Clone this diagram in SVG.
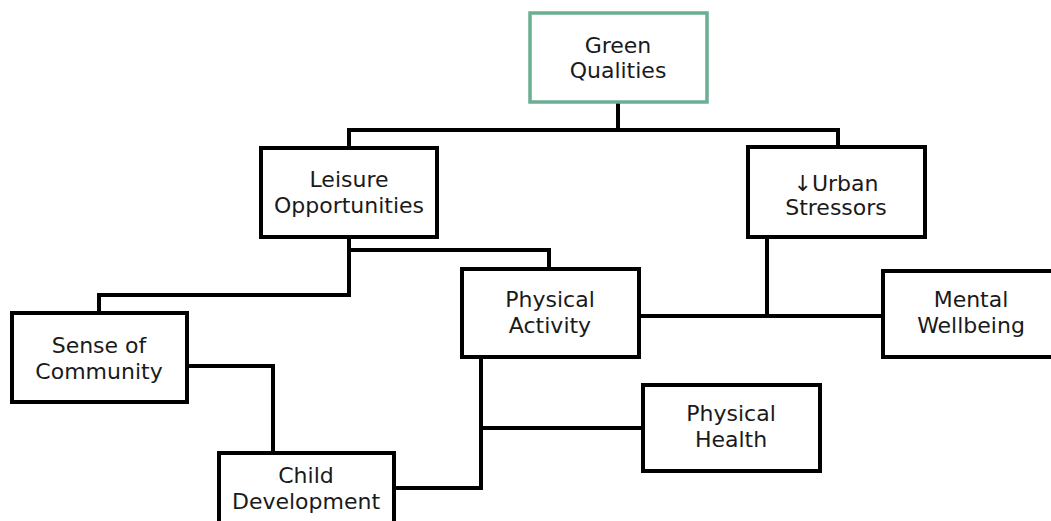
<svg xmlns="http://www.w3.org/2000/svg" width="1051" height="521" viewBox="0 0 1051 521">
<style>
.box{fill:#fff;stroke:#000;stroke-width:4}
.green{fill:#fff;stroke:#6aae93;stroke-width:3.5}
.lbl{font-family:"DejaVu Sans","Liberation Sans",sans-serif;font-size:22px;fill:#1a1a1a;text-anchor:middle}
.con{fill:none;stroke:#000;stroke-width:4;stroke-linejoin:miter}
</style>
<rect width="1051" height="521" fill="#fff"/>
<g id="connectors">
<polyline class="con" points="618,102 618,130"/>
<polyline class="con" points="349,148 349,130 838,130 838,147"/>
<polyline class="con" points="349,237 349,295 99,295 99,313"/>
<polyline class="con" points="349,250 549,250 549,269"/>
<polyline class="con" points="187,366 273,366 273,453"/>
<polyline class="con" points="767,237 767,315"/>
<polyline class="con" points="639,316 883,316"/>
<polyline class="con" points="481,357 481,488 394,488"/>
<polyline class="con" points="481,428 643,428"/>
</g>
<g id="green-qualities">
<rect class="green" x="530" y="13" width="177" height="89"/>
<text class="lbl" x="618" y="53">Green</text>
<text class="lbl" x="618" y="78">Qualities</text>
</g>
<g id="leisure-opportunities">
<rect class="box" x="261" y="148" width="176" height="89"/>
<text class="lbl" x="349" y="187">Leisure</text>
<text class="lbl" x="349" y="213">Opportunities</text>
</g>
<g id="urban-stressors">
<rect class="box" x="748" y="147" width="177" height="90"/>
<text class="lbl" x="836" y="191">↓Urban</text>
<text class="lbl" x="836" y="215">Stressors</text>
</g>
<g id="sense-of-community">
<rect class="box" x="12" y="313" width="175" height="89"/>
<text class="lbl" x="99" y="353">Sense of</text>
<text class="lbl" x="99" y="379">Community</text>
</g>
<g id="physical-activity">
<rect class="box" x="462" y="269" width="177" height="88"/>
<text class="lbl" x="550" y="307">Physical</text>
<text class="lbl" x="550" y="333">Activity</text>
</g>
<g id="mental-wellbeing">
<rect class="box" x="883" y="271" width="177" height="86"/>
<text class="lbl" x="971" y="307">Mental</text>
<text class="lbl" x="971" y="333">Wellbeing</text>
</g>
<g id="physical-health">
<rect class="box" x="643" y="385" width="177" height="86"/>
<text class="lbl" x="731" y="421">Physical</text>
<text class="lbl" x="731" y="447">Health</text>
</g>
<g id="child-development">
<rect class="box" x="219" y="453" width="175" height="89"/>
<text class="lbl" x="306" y="483">Child</text>
<text class="lbl" x="306" y="509">Development</text>
</g>
</svg>
